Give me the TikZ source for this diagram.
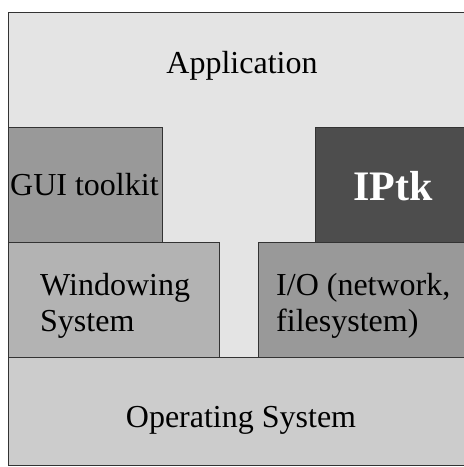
\documentclass[tikz,border=0pt]{standalone}
\usepackage{fontspec}
\setmainfont{Liberation Serif}
\definecolor{appc}{HTML}{E4E4E4}
\definecolor{guic}{HTML}{999999}
\definecolor{iptkc}{HTML}{4D4D4D}
\definecolor{winc}{HTML}{B3B3B3}
\definecolor{ioc}{HTML}{999999}
\definecolor{osc}{HTML}{CCCCCC}
\definecolor{edgec}{HTML}{333333}
\begin{document}
\begin{tikzpicture}[x=1pt,y=-1pt,
  layer/.style={draw=edgec, line width=0.9pt, anchor=north west, inner sep=0pt, outer sep=0pt},
  lbl/.style={font=\fontsize{32}{36}\selectfont, inner sep=0pt},
  biglbl/.style={font=\fontsize{42}{46}\selectfont\bfseries, text=white, inner sep=0pt}]
\useasboundingbox[fill=white] (0,0) rectangle (464,467);
\node[layer, fill=appc, minimum width=456pt, minimum height=345pt] (app) at (8,12) {};
\node[layer, fill=guic, minimum width=154pt, minimum height=115pt] (gui) at (8,127) {};
\node[layer, fill=iptkc, minimum width=149pt, minimum height=115pt] (iptk) at (315,127) {};
\node[layer, fill=winc, minimum width=211pt, minimum height=115pt] (win) at (8,242) {};
\node[layer, fill=ioc, minimum width=206pt, minimum height=115pt] (io) at (258,242) {};
\node[layer, fill=osc, minimum width=456pt, minimum height=108pt] (os) at (8,357) {};
\node[lbl, anchor=base] (apptxt) at (242,73) {Application};
\node[lbl, anchor=base west] (guitxt) at (10,195) {GUI toolkit};
\node[biglbl, anchor=base] (iptktxt) at (393,200) {IPtk};
\node[lbl, anchor=base west, align=left] (wintxt) at (40,331) {Windowing\\System};
\node[lbl, anchor=base west, align=left] (iotxt) at (276,331) {I/O (network,\\filesystem)};
\node[lbl, anchor=base] (ostxt) at (241,427) {Operating System};
\end{tikzpicture}
\end{document}
